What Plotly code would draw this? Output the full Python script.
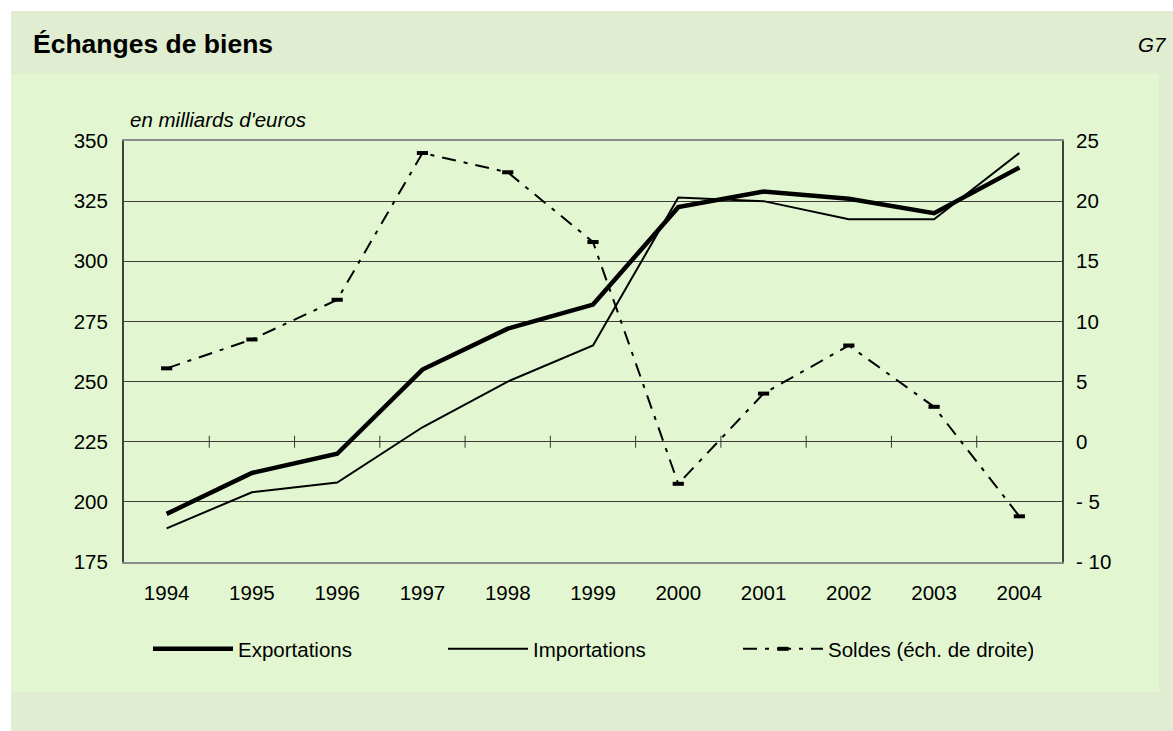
import plotly.graph_objects as go

years = ["1994", "1995", "1996", "1997", "1998", "1999", "2000", "2001", "2002", "2003", "2004"]
exportations = [195, 212, 220, 255, 272, 282, 322.5, 329, 326, 320, 339]
importations = [189, 204, 208, 231, 250, 265, 326.5, 325, 317.5, 317.5, 345]
soldes = [6.1, 8.5, 11.8, 24.0, 22.4, 16.6, -3.5, 4.0, 8.0, 2.9, -6.2]

left_ticks = [175, 200, 225, 250, 275, 300, 325, 350]
right_ticks = [-10, -5, 0, 5, 10, 15, 20, 25]
right_labels = ["- 10", "- 5", "0", "5", "10", "15", "20", "25"]

W, H = 1173, 731
L, R, T, B = 124, 1062, 141, 562
pw, ph = R - L, B - T

def px(x):
    return (x - L) / pw

def py(y):
    return (B - y) / ph

FONT = "Liberation Sans, Arial, sans-serif"
OUTER = "#E0EDD1"
INNER = "#E2F7D1"

fig = go.Figure()
fig.add_trace(go.Scatter(x=years, y=exportations, name="Exportations", mode="lines",
                         line=dict(color="black", width=4.5)))
fig.add_trace(go.Scatter(x=years, y=importations, name="Importations", mode="lines",
                         line=dict(color="black", width=2)))
fig.add_trace(go.Scatter(x=years, y=soldes, name="Soldes (éch. de droite)", mode="lines+markers",
                         yaxis="y2",
                         line=dict(color="black", width=2, dash="14px,8px,4px,8px"),
                         marker=dict(symbol="line-ew", size=8, line=dict(color="black", width=4))))

shapes = [
    dict(type="rect", xref="paper", yref="paper", x0=px(11), x1=px(1173), y0=py(731), y1=py(11),
         fillcolor=OUTER, line=dict(width=0), layer="below"),
    dict(type="rect", xref="paper", yref="paper", x0=px(11), x1=px(1159), y0=py(692), y1=py(74),
         fillcolor=INNER, line=dict(width=0), layer="below"),
]
for i in range(len(years) - 1):
    shapes.append(dict(type="line", xref="x", yref="y", x0=i + 0.5, x1=i + 0.5,
                       ysizemode="pixel", yanchor=225, y0=-6, y1=6,
                       line=dict(color="#333333", width=1)))

fig.update_layout(
    width=W, height=H,
    margin=dict(l=L, r=W - R, t=T, b=H - B),
    paper_bgcolor="white",
    plot_bgcolor=INNER,
    font=dict(family=FONT, size=20.5, color="black"),
    shapes=shapes,
    xaxis=dict(type="category", range=[-0.5, 10.5], showgrid=False, showline=True, mirror=True,
               linecolor="#8a8a8a", linewidth=2, ticks="", ticklabelstandoff=11,
               tickfont=dict(size=20.5), fixedrange=True),
    yaxis=dict(range=[175, 350], tickvals=left_ticks, showgrid=True, gridcolor="#3a3a3a",
               gridwidth=1, showline=True, linecolor="#404040", linewidth=2,
               ticks="inside", ticklen=6, tickcolor="#404040", ticklabelstandoff=10,
               zeroline=False, fixedrange=True),
    yaxis2=dict(range=[-10, 25], tickvals=right_ticks, ticktext=right_labels, overlaying="y",
                side="right", showgrid=False, showline=True, linecolor="#404040", linewidth=2,
                ticks="inside", ticklen=6, tickcolor="#404040", ticklabelstandoff=8,
                zeroline=False, fixedrange=True),
    legend=dict(orientation="h", x=px(148), y=py(649), xanchor="left", yanchor="middle",
                bgcolor="rgba(0,0,0,0)", entrywidth=200, entrywidthmode="pixels",
                itemwidth=80, font=dict(size=20.5), tracegroupgap=0),
    annotations=[
        dict(text="<b>Échanges de biens</b>", xref="paper", yref="paper", x=px(31), y=py(44),
             xanchor="left", yanchor="middle", showarrow=False, font=dict(size=26.5)),
        dict(text="<i>G7</i>", xref="paper", yref="paper", x=px(1169), y=py(45),
             xanchor="right", yanchor="middle", showarrow=False, font=dict(size=20.5)),
        dict(text="<i>en milliards d'euros</i>", xref="paper", yref="paper", x=px(128), y=py(119),
             xanchor="left", yanchor="middle", showarrow=False, font=dict(size=20.5)),
    ],
)

fig.write_html("out.html", config={"displayModeBar": False},
               post_script="document.body.style.margin='0px';")
